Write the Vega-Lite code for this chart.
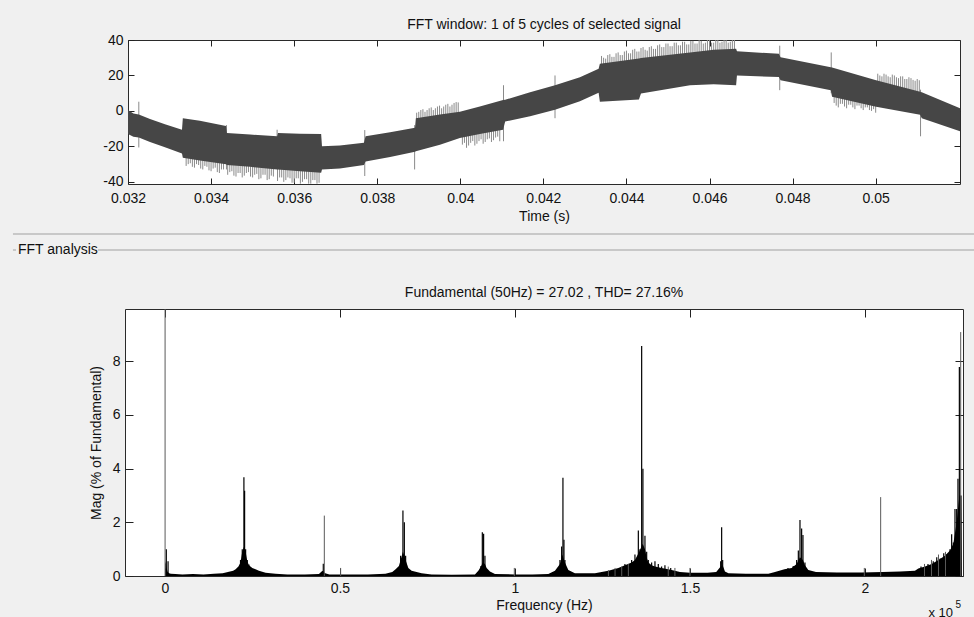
{
  "$schema": "https://vega.github.io/schema/vega-lite/v6.json",
  "background": "#f0f0f0",
  "padding": {"left": 12, "top": 17, "right": 0, "bottom": 0},
  "bounds": "flush",
  "center": true,
  "spacing": 50,
  "config": {
    "font": "Liberation Sans",
    "view": {"fill": "white", "stroke": "#2a2a2a", "strokeWidth": 1},
    "axis": {
      "labelFont": "Liberation Sans", "labelFontSize": 14, "labelColor": "#111",
      "titleFont": "Liberation Sans", "titleFontSize": 14, "titleFontWeight": "normal", "titleColor": "#111",
      "tickColor": "#222", "tickWidth": 1, "grid": false, "domain": false,
      "labelFlush": false, "labelOverlap": false, "labelBound": false
    },
    "title": {"font": "Liberation Sans", "fontSize": 14, "fontWeight": "normal", "color": "#111"}
  },
  "datasets": {
    "sig_band": [
      {"t": 0.032, "hi": 0.5, "lo": -13},
      {"t": 0.03213, "hi": -1.5, "lo": -14.5},
      {"t": 0.03226, "hi": -2, "lo": -15},
      {"t": 0.03253, "hi": -4.5, "lo": -17.5},
      {"t": 0.03289, "hi": -7.5, "lo": -20.5},
      {"t": 0.0333, "hi": -10.6, "lo": -24},
      {"t": 0.03332, "hi": -4.1, "lo": -26.4},
      {"t": 0.03373, "hi": -5.5, "lo": -28},
      {"t": 0.03436, "hi": -8.5, "lo": -30},
      {"t": 0.03438, "hi": -12.5, "lo": -30.5},
      {"t": 0.03494, "hi": -13.3, "lo": -31.5},
      {"t": 0.03559, "hi": -14.3, "lo": -33},
      {"t": 0.03561, "hi": -12.4, "lo": -33},
      {"t": 0.03614, "hi": -12.8, "lo": -34},
      {"t": 0.03665, "hi": -13, "lo": -34.8},
      {"t": 0.03667, "hi": -19.9, "lo": -33},
      {"t": 0.0371, "hi": -19.5, "lo": -32.5},
      {"t": 0.03768, "hi": -18, "lo": -30.5},
      {"t": 0.03772, "hi": -14.3, "lo": -28.5},
      {"t": 0.03831, "hi": -12, "lo": -26},
      {"t": 0.03891, "hi": -9.5, "lo": -23},
      {"t": 0.03893, "hi": -4.1, "lo": -22.7},
      {"t": 0.03951, "hi": -2, "lo": -19},
      {"t": 0.03999, "hi": -0.4, "lo": -15.3},
      {"t": 0.04047, "hi": 2.5, "lo": -13},
      {"t": 0.04103, "hi": 6.1, "lo": -10.6},
      {"t": 0.04108, "hi": 6.3, "lo": -6},
      {"t": 0.04168, "hi": 10.5, "lo": -3},
      {"t": 0.04228, "hi": 14.5, "lo": 0.6},
      {"t": 0.04288, "hi": 19, "lo": 5.5},
      {"t": 0.04333, "hi": 23.8, "lo": 10.3},
      {"t": 0.04336, "hi": 26.6, "lo": 5.2},
      {"t": 0.0443, "hi": 29.5, "lo": 6.5},
      {"t": 0.04435, "hi": 29.8, "lo": 9.9},
      {"t": 0.04553, "hi": 33, "lo": 14.5},
      {"t": 0.0461, "hi": 34.5, "lo": 15},
      {"t": 0.04664, "hi": 35, "lo": 14.5},
      {"t": 0.04666, "hi": 33.6, "lo": 20},
      {"t": 0.04767, "hi": 32.2, "lo": 19.1},
      {"t": 0.04771, "hi": 30.3, "lo": 17.3},
      {"t": 0.04892, "hi": 24.7, "lo": 11.7},
      {"t": 0.04895, "hi": 24.5, "lo": 8},
      {"t": 0.05001, "hi": 17.3, "lo": 2.4},
      {"t": 0.05107, "hi": 10.8, "lo": -2.2},
      {"t": 0.05111, "hi": 10.5, "lo": -4.1},
      {"t": 0.05203, "hi": 1.5, "lo": -11.5}
    ],
    "sig_spikes": [
      {"t": 0.03226, "y1": 5.2, "y2": -20.6},
      {"t": 0.0334, "y1": -20, "y2": -31},
      {"t": 0.03345, "y1": -20, "y2": -30},
      {"t": 0.0335, "y1": -20, "y2": -29.5},
      {"t": 0.03355, "y1": -20, "y2": -31.5},
      {"t": 0.0336, "y1": -20, "y2": -32},
      {"t": 0.03365, "y1": -20, "y2": -30},
      {"t": 0.0337, "y1": -20, "y2": -30.5},
      {"t": 0.03375, "y1": -20, "y2": -32.5},
      {"t": 0.0338, "y1": -20, "y2": -33},
      {"t": 0.03385, "y1": -20, "y2": -31},
      {"t": 0.0339, "y1": -20, "y2": -31.5},
      {"t": 0.03395, "y1": -20, "y2": -33.5},
      {"t": 0.034, "y1": -20, "y2": -34},
      {"t": 0.03405, "y1": -20, "y2": -32.5},
      {"t": 0.0341, "y1": -20, "y2": -32},
      {"t": 0.03415, "y1": -20, "y2": -34.5},
      {"t": 0.0342, "y1": -20, "y2": -35},
      {"t": 0.03425, "y1": -20, "y2": -33},
      {"t": 0.0343, "y1": -20, "y2": -33},
      {"t": 0.03437, "y1": -8, "y2": -33},
      {"t": 0.0344, "y1": -20, "y2": -36},
      {"t": 0.03445, "y1": -20, "y2": -34.5},
      {"t": 0.0345, "y1": -20, "y2": -34},
      {"t": 0.03455, "y1": -20, "y2": -36.5},
      {"t": 0.0346, "y1": -20, "y2": -37},
      {"t": 0.03465, "y1": -20, "y2": -35},
      {"t": 0.0347, "y1": -20, "y2": -35},
      {"t": 0.03475, "y1": -20, "y2": -37.5},
      {"t": 0.0348, "y1": -20, "y2": -36.5},
      {"t": 0.03485, "y1": -20, "y2": -35},
      {"t": 0.0349, "y1": -20, "y2": -34.5},
      {"t": 0.03495, "y1": -20, "y2": -37},
      {"t": 0.035, "y1": -20, "y2": -37.5},
      {"t": 0.03505, "y1": -20, "y2": -36},
      {"t": 0.0351, "y1": -20, "y2": -35.5},
      {"t": 0.03515, "y1": -20, "y2": -38.5},
      {"t": 0.0352, "y1": -20, "y2": -38},
      {"t": 0.03525, "y1": -20, "y2": -36},
      {"t": 0.0353, "y1": -20, "y2": -36},
      {"t": 0.03535, "y1": -20, "y2": -39},
      {"t": 0.0354, "y1": -20, "y2": -38.5},
      {"t": 0.03545, "y1": -20, "y2": -36.5},
      {"t": 0.0355, "y1": -20, "y2": -37},
      {"t": 0.03559, "y1": -10.6, "y2": -30},
      {"t": 0.0356, "y1": -20, "y2": -39.5},
      {"t": 0.03565, "y1": -20, "y2": -37.5},
      {"t": 0.0357, "y1": -20, "y2": -37.5},
      {"t": 0.03575, "y1": -20, "y2": -40},
      {"t": 0.0358, "y1": -20, "y2": -39},
      {"t": 0.03585, "y1": -20, "y2": -37.5},
      {"t": 0.0359, "y1": -20, "y2": -38},
      {"t": 0.03595, "y1": -20, "y2": -40.5},
      {"t": 0.036, "y1": -20, "y2": -40.5},
      {"t": 0.03605, "y1": -20, "y2": -38},
      {"t": 0.0361, "y1": -20, "y2": -38},
      {"t": 0.03615, "y1": -20, "y2": -41},
      {"t": 0.0362, "y1": -20, "y2": -40},
      {"t": 0.03625, "y1": -20, "y2": -38.5},
      {"t": 0.0363, "y1": -20, "y2": -38.5},
      {"t": 0.03635, "y1": -20, "y2": -41},
      {"t": 0.0364, "y1": -20, "y2": -41},
      {"t": 0.03645, "y1": -20, "y2": -39},
      {"t": 0.0365, "y1": -20, "y2": -39},
      {"t": 0.03655, "y1": -20, "y2": -41},
      {"t": 0.0366, "y1": -20, "y2": -40.5},
      {"t": 0.0377, "y1": -10.8, "y2": -36.7},
      {"t": 0.0389, "y1": -8, "y2": -33},
      {"t": 0.03895, "y1": -10, "y2": -1},
      {"t": 0.039, "y1": -10, "y2": -0.5},
      {"t": 0.03905, "y1": -10, "y2": 0.5},
      {"t": 0.0391, "y1": -10, "y2": 1},
      {"t": 0.03915, "y1": -10, "y2": -0.5},
      {"t": 0.0392, "y1": -10, "y2": 0.5},
      {"t": 0.03925, "y1": -10, "y2": 1.5},
      {"t": 0.0393, "y1": -10, "y2": 2},
      {"t": 0.03935, "y1": -10, "y2": 0.5},
      {"t": 0.0394, "y1": -10, "y2": 1.5},
      {"t": 0.03945, "y1": -10, "y2": 2.5},
      {"t": 0.0395, "y1": -10, "y2": 3},
      {"t": 0.03955, "y1": -10, "y2": 1.5},
      {"t": 0.0396, "y1": -10, "y2": 2.5},
      {"t": 0.03965, "y1": -10, "y2": 3.5},
      {"t": 0.0397, "y1": -10, "y2": 4},
      {"t": 0.03975, "y1": -10, "y2": 2.5},
      {"t": 0.0398, "y1": -10, "y2": 3.5},
      {"t": 0.03985, "y1": -10, "y2": 4.5},
      {"t": 0.0399, "y1": -10, "y2": 5},
      {"t": 0.03995, "y1": -10, "y2": 4.8},
      {"t": 0.04005, "y1": -5, "y2": -19},
      {"t": 0.0401, "y1": -5, "y2": -18},
      {"t": 0.04015, "y1": -5, "y2": -20.8},
      {"t": 0.0402, "y1": -5, "y2": -19.5},
      {"t": 0.04025, "y1": -5, "y2": -18},
      {"t": 0.0403, "y1": -5, "y2": -17},
      {"t": 0.04035, "y1": -5, "y2": -19.5},
      {"t": 0.0404, "y1": -5, "y2": -18.5},
      {"t": 0.04045, "y1": -5, "y2": -17},
      {"t": 0.0405, "y1": -5, "y2": -16},
      {"t": 0.04055, "y1": -5, "y2": -18.5},
      {"t": 0.0406, "y1": -5, "y2": -17.5},
      {"t": 0.04065, "y1": -5, "y2": -16},
      {"t": 0.0407, "y1": -5, "y2": -15.5},
      {"t": 0.04075, "y1": -5, "y2": -17.5},
      {"t": 0.0408, "y1": -5, "y2": -16.5},
      {"t": 0.04085, "y1": -5, "y2": -15},
      {"t": 0.0409, "y1": -5, "y2": -14.5},
      {"t": 0.04095, "y1": -5, "y2": -17.1},
      {"t": 0.04104, "y1": 14.5, "y2": -17.1},
      {"t": 0.04228, "y1": 20, "y2": -4.1},
      {"t": 0.0434, "y1": 15, "y2": 31},
      {"t": 0.04345, "y1": 15, "y2": 30},
      {"t": 0.0435, "y1": 15, "y2": 29.5},
      {"t": 0.04355, "y1": 15, "y2": 31.5},
      {"t": 0.0436, "y1": 15, "y2": 32},
      {"t": 0.04365, "y1": 15, "y2": 30.5},
      {"t": 0.0437, "y1": 15, "y2": 30.5},
      {"t": 0.04375, "y1": 15, "y2": 32.5},
      {"t": 0.0438, "y1": 15, "y2": 33},
      {"t": 0.04385, "y1": 15, "y2": 31.5},
      {"t": 0.0439, "y1": 15, "y2": 31.5},
      {"t": 0.04395, "y1": 15, "y2": 33.5},
      {"t": 0.044, "y1": 15, "y2": 34},
      {"t": 0.04405, "y1": 15, "y2": 32.5},
      {"t": 0.0441, "y1": 15, "y2": 32.5},
      {"t": 0.04415, "y1": 15, "y2": 34.5},
      {"t": 0.0442, "y1": 15, "y2": 35},
      {"t": 0.04425, "y1": 15, "y2": 33.5},
      {"t": 0.0443, "y1": 15, "y2": 33.5},
      {"t": 0.04435, "y1": 15, "y2": 35.5},
      {"t": 0.0444, "y1": 15, "y2": 36},
      {"t": 0.04445, "y1": 15, "y2": 34.5},
      {"t": 0.0445, "y1": 15, "y2": 34},
      {"t": 0.04455, "y1": 15, "y2": 36},
      {"t": 0.0446, "y1": 15, "y2": 36.5},
      {"t": 0.04465, "y1": 15, "y2": 35},
      {"t": 0.0447, "y1": 15, "y2": 35},
      {"t": 0.04475, "y1": 15, "y2": 37},
      {"t": 0.0448, "y1": 15, "y2": 37.5},
      {"t": 0.04485, "y1": 15, "y2": 36},
      {"t": 0.0449, "y1": 15, "y2": 36},
      {"t": 0.04495, "y1": 15, "y2": 38},
      {"t": 0.045, "y1": 15, "y2": 38},
      {"t": 0.04505, "y1": 15, "y2": 36.5},
      {"t": 0.0451, "y1": 15, "y2": 36.5},
      {"t": 0.04515, "y1": 15, "y2": 38.5},
      {"t": 0.0452, "y1": 15, "y2": 38.5},
      {"t": 0.04525, "y1": 15, "y2": 37},
      {"t": 0.0453, "y1": 15, "y2": 37},
      {"t": 0.04535, "y1": 15, "y2": 39},
      {"t": 0.0454, "y1": 15, "y2": 39},
      {"t": 0.04545, "y1": 15, "y2": 37.5},
      {"t": 0.0455, "y1": 15, "y2": 37.5},
      {"t": 0.04555, "y1": 20, "y2": 39.5},
      {"t": 0.0456, "y1": 20, "y2": 39.5},
      {"t": 0.04565, "y1": 20, "y2": 38},
      {"t": 0.0457, "y1": 20, "y2": 38},
      {"t": 0.04575, "y1": 20, "y2": 40},
      {"t": 0.0458, "y1": 20, "y2": 39.5},
      {"t": 0.04585, "y1": 20, "y2": 38},
      {"t": 0.0459, "y1": 20, "y2": 38.5},
      {"t": 0.04595, "y1": 20, "y2": 40},
      {"t": 0.046, "y1": 20, "y2": 40},
      {"t": 0.04605, "y1": 20, "y2": 38.5},
      {"t": 0.0461, "y1": 20, "y2": 38.5},
      {"t": 0.04615, "y1": 20, "y2": 40},
      {"t": 0.0462, "y1": 20, "y2": 40},
      {"t": 0.04625, "y1": 20, "y2": 38.5},
      {"t": 0.0463, "y1": 20, "y2": 39},
      {"t": 0.04635, "y1": 20, "y2": 40},
      {"t": 0.0464, "y1": 20, "y2": 40},
      {"t": 0.04645, "y1": 20, "y2": 38.5},
      {"t": 0.0465, "y1": 20, "y2": 39},
      {"t": 0.04655, "y1": 20, "y2": 40},
      {"t": 0.0466, "y1": 20, "y2": 40},
      {"t": 0.04769, "y1": 36.8, "y2": 11.7},
      {"t": 0.04893, "y1": 33, "y2": 10},
      {"t": 0.049, "y1": 12, "y2": 4.5},
      {"t": 0.04905, "y1": 12, "y2": 3},
      {"t": 0.0491, "y1": 12, "y2": 2},
      {"t": 0.04915, "y1": 12, "y2": 4},
      {"t": 0.0492, "y1": 12, "y2": 4},
      {"t": 0.04925, "y1": 12, "y2": 2.5},
      {"t": 0.0493, "y1": 12, "y2": 1.5},
      {"t": 0.04935, "y1": 12, "y2": 3.5},
      {"t": 0.0494, "y1": 12, "y2": 3.5},
      {"t": 0.04945, "y1": 12, "y2": 2},
      {"t": 0.0495, "y1": 12, "y2": 1},
      {"t": 0.04955, "y1": 12, "y2": 3},
      {"t": 0.0496, "y1": 12, "y2": 3},
      {"t": 0.04965, "y1": 12, "y2": 1.5},
      {"t": 0.0497, "y1": 12, "y2": 0.5},
      {"t": 0.04975, "y1": 12, "y2": 2},
      {"t": 0.0498, "y1": 12, "y2": 2},
      {"t": 0.04985, "y1": 12, "y2": 0.5},
      {"t": 0.0499, "y1": 12, "y2": 0},
      {"t": 0.04995, "y1": 12, "y2": 1},
      {"t": 0.05, "y1": 12, "y2": -1},
      {"t": 0.05005, "y1": 5, "y2": 21},
      {"t": 0.0501, "y1": 5, "y2": 20},
      {"t": 0.05015, "y1": 5, "y2": 19.5},
      {"t": 0.0502, "y1": 5, "y2": 21},
      {"t": 0.05025, "y1": 5, "y2": 20.5},
      {"t": 0.0503, "y1": 5, "y2": 19.5},
      {"t": 0.05035, "y1": 5, "y2": 19},
      {"t": 0.0504, "y1": 5, "y2": 20.5},
      {"t": 0.05045, "y1": 5, "y2": 20},
      {"t": 0.0505, "y1": 5, "y2": 19},
      {"t": 0.05055, "y1": 5, "y2": 18.5},
      {"t": 0.0506, "y1": 5, "y2": 19.5},
      {"t": 0.05065, "y1": 5, "y2": 19.5},
      {"t": 0.0507, "y1": 5, "y2": 18},
      {"t": 0.05075, "y1": 5, "y2": 18},
      {"t": 0.0508, "y1": 5, "y2": 19},
      {"t": 0.05085, "y1": 5, "y2": 18.5},
      {"t": 0.0509, "y1": 5, "y2": 17.5},
      {"t": 0.05095, "y1": 5, "y2": 17},
      {"t": 0.051, "y1": 5, "y2": 18},
      {"t": 0.05105, "y1": 5, "y2": 17.3},
      {"t": 0.05108, "y1": 12, "y2": -14.3}
    ],
    "floor": [
      {"f": 100, "m": 0.55}, {"f": 300, "m": 0.45}, {"f": 500, "m": 0.3}, {"f": 800, "m": 0.15},
      {"f": 1200, "m": 0.1}, {"f": 1700, "m": 0.08}, {"f": 3000, "m": 0.07}, {"f": 5000, "m": 0.06},
      {"f": 8000, "m": 0.07}, {"f": 11000, "m": 0.06}, {"f": 14000, "m": 0.08}, {"f": 16500, "m": 0.1},
      {"f": 18300, "m": 0.16}, {"f": 19500, "m": 0.2}, {"f": 20200, "m": 0.25}, {"f": 21000, "m": 0.35},
      {"f": 21600, "m": 0.5}, {"f": 22100, "m": 0.9}, {"f": 22600, "m": 1.1}, {"f": 23060, "m": 0.9},
      {"f": 23540, "m": 0.55}, {"f": 24000, "m": 0.4}, {"f": 24970, "m": 0.3}, {"f": 25900, "m": 0.25},
      {"f": 26860, "m": 0.2}, {"f": 28770, "m": 0.12}, {"f": 31600, "m": 0.08}, {"f": 35000, "m": 0.06},
      {"f": 40000, "m": 0.06}, {"f": 44000, "m": 0.07}, {"f": 45000, "m": 0.2}, {"f": 45800, "m": 0.1},
      {"f": 47000, "m": 0.06}, {"f": 52000, "m": 0.06}, {"f": 58000, "m": 0.06}, {"f": 63000, "m": 0.08},
      {"f": 64960, "m": 0.15}, {"f": 65900, "m": 0.25}, {"f": 66850, "m": 0.37}, {"f": 67340, "m": 0.6},
      {"f": 68000, "m": 0.9}, {"f": 68770, "m": 0.6}, {"f": 69540, "m": 0.3}, {"f": 70480, "m": 0.2},
      {"f": 73340, "m": 0.1}, {"f": 76200, "m": 0.06}, {"f": 82000, "m": 0.05}, {"f": 88570, "m": 0.06},
      {"f": 89540, "m": 0.2}, {"f": 90280, "m": 0.35}, {"f": 90800, "m": 0.5}, {"f": 91430, "m": 0.45},
      {"f": 91910, "m": 0.3}, {"f": 92860, "m": 0.17}, {"f": 94290, "m": 0.07}, {"f": 100000, "m": 0.06},
      {"f": 105000, "m": 0.06}, {"f": 109540, "m": 0.07}, {"f": 111430, "m": 0.2}, {"f": 112860, "m": 0.45},
      {"f": 113500, "m": 0.8}, {"f": 114280, "m": 0.5}, {"f": 115250, "m": 0.22}, {"f": 117140, "m": 0.1},
      {"f": 122850, "m": 0.1}, {"f": 126680, "m": 0.2}, {"f": 129540, "m": 0.3}, {"f": 131420, "m": 0.4},
      {"f": 133340, "m": 0.5}, {"f": 134280, "m": 0.6}, {"f": 135500, "m": 0.9}, {"f": 136500, "m": 1.2},
      {"f": 137140, "m": 1.0}, {"f": 137630, "m": 0.7}, {"f": 138100, "m": 0.5}, {"f": 139050, "m": 0.4},
      {"f": 140000, "m": 0.35}, {"f": 141900, "m": 0.3}, {"f": 143800, "m": 0.25}, {"f": 145700, "m": 0.2},
      {"f": 147140, "m": 0.15}, {"f": 150000, "m": 0.12}, {"f": 155000, "m": 0.12}, {"f": 157500, "m": 0.15},
      {"f": 158770, "m": 0.35}, {"f": 159340, "m": 0.4}, {"f": 160000, "m": 0.17}, {"f": 161000, "m": 0.1},
      {"f": 166000, "m": 0.08}, {"f": 172400, "m": 0.08}, {"f": 174280, "m": 0.15}, {"f": 177000, "m": 0.25},
      {"f": 179050, "m": 0.3}, {"f": 180480, "m": 0.45}, {"f": 181400, "m": 0.7}, {"f": 182280, "m": 0.6},
      {"f": 182850, "m": 0.4}, {"f": 183810, "m": 0.22}, {"f": 186000, "m": 0.15}, {"f": 192000, "m": 0.13},
      {"f": 199000, "m": 0.13}, {"f": 205000, "m": 0.15}, {"f": 210000, "m": 0.17}, {"f": 214280, "m": 0.2},
      {"f": 215230, "m": 0.28}, {"f": 217140, "m": 0.35}, {"f": 219050, "m": 0.45}, {"f": 220960, "m": 0.6},
      {"f": 222850, "m": 0.75}, {"f": 224280, "m": 0.95}, {"f": 225240, "m": 1.2}, {"f": 226190, "m": 2.0},
      {"f": 226960, "m": 3.0}, {"f": 227600, "m": 3.0}, {"f": 227700, "m": 0}
    ],
    "bars": [
      {"f": 400, "m": 1.0}, {"f": 900, "m": 0.55}, {"f": 21600, "m": 0.6}, {"f": 22100, "m": 1.0},
      {"f": 22570, "m": 3.68}, {"f": 22770, "m": 3.18}, {"f": 23060, "m": 1.0}, {"f": 23540, "m": 0.6},
      {"f": 24000, "m": 0.43}, {"f": 45250, "m": 0.46}, {"f": 67340, "m": 0.75}, {"f": 68000, "m": 2.44},
      {"f": 68400, "m": 2.0}, {"f": 68770, "m": 0.75}, {"f": 90280, "m": 0.37}, {"f": 90680, "m": 1.63},
      {"f": 91050, "m": 1.57}, {"f": 91430, "m": 0.75}, {"f": 112860, "m": 0.6}, {"f": 113340, "m": 1.1},
      {"f": 113710, "m": 3.66}, {"f": 114000, "m": 1.35}, {"f": 114280, "m": 0.6}, {"f": 131420, "m": 0.45},
      {"f": 133340, "m": 0.6}, {"f": 134280, "m": 0.8}, {"f": 135250, "m": 1.7}, {"f": 135710, "m": 1.0},
      {"f": 136200, "m": 8.57}, {"f": 136560, "m": 4.0}, {"f": 137140, "m": 1.5}, {"f": 137630, "m": 0.9},
      {"f": 138100, "m": 0.6}, {"f": 139050, "m": 0.5}, {"f": 140000, "m": 0.55}, {"f": 140950, "m": 0.45},
      {"f": 141900, "m": 0.35}, {"f": 142850, "m": 0.4}, {"f": 144500, "m": 0.3}, {"f": 158770, "m": 0.55},
      {"f": 159050, "m": 1.82}, {"f": 159340, "m": 0.6}, {"f": 178000, "m": 0.3}, {"f": 179500, "m": 0.37},
      {"f": 180480, "m": 0.6}, {"f": 180960, "m": 0.95}, {"f": 181430, "m": 2.09}, {"f": 181900, "m": 1.77},
      {"f": 182280, "m": 1.53}, {"f": 182850, "m": 0.5}, {"f": 216000, "m": 0.35}, {"f": 218000, "m": 0.45},
      {"f": 219500, "m": 0.55}, {"f": 220500, "m": 0.7}, {"f": 221500, "m": 0.65}, {"f": 222500, "m": 0.85},
      {"f": 223300, "m": 0.8}, {"f": 224280, "m": 1.0}, {"f": 224760, "m": 1.56}, {"f": 225240, "m": 1.25},
      {"f": 225710, "m": 2.5}, {"f": 226190, "m": 2.5}, {"f": 226560, "m": 3.62}, {"f": 226960, "m": 7.79}
    ],
    "lines": [
      {"f": 50, "m": 100}, {"f": 45540, "m": 2.25}, {"f": 50200, "m": 0.3}, {"f": 99820, "m": 0.3},
      {"f": 150000, "m": 0.3}, {"f": 199810, "m": 0.3}, {"f": 204480, "m": 2.94}, {"f": 227340, "m": 9.09},
      {"f": 126700, "m": 0.22}, {"f": 128600, "m": 0.3}, {"f": 130500, "m": 0.35}, {"f": 132400, "m": 0.45},
      {"f": 143800, "m": 0.35}, {"f": 145700, "m": 0.3}, {"f": 217000, "m": 0.45}, {"f": 219000, "m": 0.6},
      {"f": 221000, "m": 0.8}, {"f": 223000, "m": 0.9}
    ]
  },
  "vconcat": [
    {
      "width": 832,
      "height": 144,
      "title": {"text": "FFT window: 1 of 5 cycles of selected signal", "offset": 1},
      "layer": [
        {
          "data": {"name": "sig_spikes"},
          "mark": {"type": "rule", "color": "#8a8a8a", "strokeWidth": 1},
          "encoding": {
            "x": {"field": "t", "type": "quantitative",
              "scale": {"domain": [0.032, 0.05203], "nice": false, "zero": false},
              "axis": {"orient": "top", "labels": false, "title": null, "tickSize": -6,
                "values": [0.032, 0.034, 0.036, 0.038, 0.04, 0.042, 0.044, 0.046, 0.048, 0.05]}},
            "y": {"field": "y1", "type": "quantitative",
              "scale": {"domain": [-41.2, 40], "nice": false, "zero": false},
              "axis": {"orient": "right", "labels": false, "title": null, "tickSize": -6,
                "values": [-40, -20, 0, 20, 40]}},
            "y2": {"field": "y2"}
          }
        },
        {
          "data": {"name": "sig_band"},
          "mark": {"type": "area", "color": "#464646", "interpolate": "linear"},
          "encoding": {
            "x": {"field": "t", "type": "quantitative",
              "scale": {"domain": [0.032, 0.05203], "nice": false, "zero": false},
              "axis": {"orient": "bottom", "title": "Time (s)", "format": ".3~f", "tickSize": -6,
                "labelPadding": 13, "titlePadding": 4,
                "values": [0.032, 0.034, 0.036, 0.038, 0.04, 0.042, 0.044, 0.046, 0.048, 0.05]}},
            "y": {"field": "hi", "type": "quantitative",
              "scale": {"domain": [-41.2, 40], "nice": false, "zero": false},
              "axis": {"orient": "left", "title": null, "tickSize": -6, "labelPadding": 11,
                "labelExpr": "replace(datum.label, '\u2212', '-')",
                "values": [-40, -20, 0, 20, 40]}},
            "y2": {"field": "lo"}
          }
        }
      ],
      "resolve": {"axis": {"x": "independent", "y": "independent"}}
    },
    {
      "width": 838,
      "height": 25,
      "view": {"fill": null, "stroke": null},
      "layer": [
        {
          "data": {"values": [
            {"x0": -0.1337, "x1": 1.0143, "y": 1},
            {"x0": -0.1337, "x1": -0.1301, "y": 0.36},
            {"x0": -0.0322, "x1": 1.0143, "y": 0.36}
          ]},
          "mark": {"type": "rule", "color": "#a0a0a0", "strokeWidth": 1, "clip": false},
          "encoding": {
            "x": {"field": "x0", "type": "quantitative", "scale": {"domain": [0, 1], "nice": false, "zero": false}, "axis": null},
            "x2": {"field": "x1"},
            "y": {"field": "y", "type": "quantitative", "scale": {"domain": [0, 1], "nice": false, "zero": false}, "axis": null}
          }
        },
        {
          "data": {"values": [{"x": -0.1277, "y": 0.36, "label": "FFT analysis"}]},
          "mark": {"type": "text", "align": "left", "baseline": "middle", "fontSize": 14, "color": "#111", "clip": false},
          "encoding": {
            "x": {"field": "x", "type": "quantitative", "scale": {"domain": [0, 1], "nice": false, "zero": false}, "axis": null},
            "y": {"field": "y", "type": "quantitative", "scale": {"domain": [0, 1], "nice": false, "zero": false}, "axis": null},
            "text": {"field": "label"}
          }
        }
      ]
    },
    {
      "width": 838,
      "height": 267,
      "title": {"text": "Fundamental (50Hz) = 27.02 , THD= 27.16%", "offset": 9},
      "layer": [
        {
          "data": {"name": "floor"},
          "mark": {"type": "area", "color": "#000", "interpolate": "linear"},
          "encoding": {
            "x": {"field": "f", "type": "quantitative",
              "scale": {"domain": [-11400, 228000], "nice": false, "zero": false},
              "axis": {"orient": "bottom", "title": "Frequency (Hz)", "tickSize": -8, "labelPadding": 13,
                "titlePadding": 3, "values": [0, 50000, 100000, 150000, 200000],
                "labelExpr": "format(datum.value / 100000, '~g')"}},
            "y": {"field": "m", "type": "quantitative",
              "scale": {"domain": [0, 9.95], "nice": false, "zero": false},
              "axis": {"orient": "left", "title": "Mag (% of Fundamental)", "tickSize": -8, "labelPadding": 13,
                "titlePadding": 9, "values": [0, 2, 4, 6, 8]}}
          }
        },
        {
          "data": {"name": "bars"},
          "mark": {"type": "rule", "color": "#000", "strokeWidth": 1.2},
          "encoding": {
            "x": {"field": "f", "type": "quantitative",
              "scale": {"domain": [-11400, 228000], "nice": false, "zero": false},
              "axis": {"orient": "top", "labels": false, "title": null, "tickSize": -8,
                "values": [0, 50000, 100000, 150000, 200000]}},
            "y": {"field": "m", "type": "quantitative",
              "scale": {"domain": [0, 9.95], "nice": false, "zero": false},
              "axis": {"orient": "right", "labels": false, "title": null, "tickSize": -8,
                "values": [0, 2, 4, 6, 8]}},
            "y2": {"datum": 0}
          }
        },
        {
          "data": {"name": "lines"},
          "mark": {"type": "rule", "color": "#5a5a5a", "strokeWidth": 1, "clip": true},
          "encoding": {
            "x": {"field": "f", "type": "quantitative",
              "scale": {"domain": [-11400, 228000], "nice": false, "zero": false}, "axis": null},
            "y": {"field": "m", "type": "quantitative",
              "scale": {"domain": [0, 9.95], "nice": false, "zero": false}, "axis": null},
            "y2": {"datum": 0}
          }
        },
        {
          "data": {"values": [{"f": 228000, "m": 0, "label": "x 10"}]},
          "mark": {"type": "text", "align": "right", "baseline": "middle", "dx": -10, "dy": 37, "fontSize": 13, "color": "#111"},
          "encoding": {
            "x": {"field": "f", "type": "quantitative",
              "scale": {"domain": [-11400, 228000], "nice": false, "zero": false}, "axis": null},
            "y": {"field": "m", "type": "quantitative",
              "scale": {"domain": [0, 9.95], "nice": false, "zero": false}, "axis": null},
            "text": {"field": "label"}
          }
        },
        {
          "data": {"values": [{"f": 228000, "m": 0, "label": "5"}]},
          "mark": {"type": "text", "align": "right", "baseline": "middle", "dx": -2, "dy": 29, "fontSize": 10, "color": "#111"},
          "encoding": {
            "x": {"field": "f", "type": "quantitative",
              "scale": {"domain": [-11400, 228000], "nice": false, "zero": false}, "axis": null},
            "y": {"field": "m", "type": "quantitative",
              "scale": {"domain": [0, 9.95], "nice": false, "zero": false}, "axis": null},
            "text": {"field": "label"}
          }
        }
      ],
      "resolve": {"axis": {"x": "independent", "y": "independent"}}
    }
  ]
}
